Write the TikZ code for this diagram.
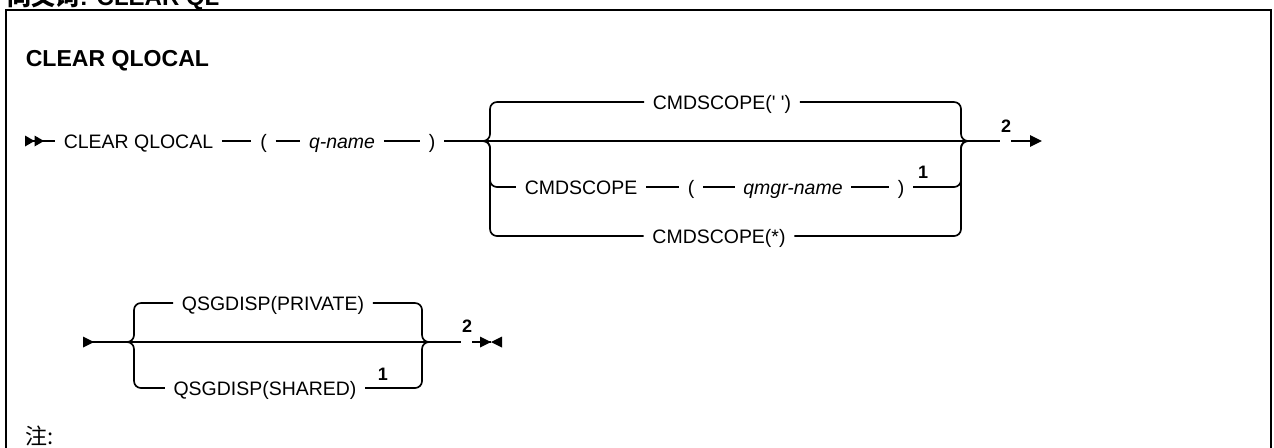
\documentclass[tikz,border=0pt]{standalone}
\usepackage{fontspec}
\setmainfont{Liberation Sans}[Ligatures=TeXOff]
\newfontfamily\cjk{Noto Sans CJK SC}
\usetikzlibrary{arrows.meta}
\begin{document}
\begin{tikzpicture}[x=0.75pt,y=-0.75pt, line width=1.25pt,
  t/.style={font=\fontsize{14.6pt}{16pt}\selectfont, inner ysep=0pt, inner xsep=6pt, text height=10.5pt, text depth=0pt},
  it/.style={t, font=\fontsize{14.6pt}{16pt}\selectfont\itshape},
  supn/.style={font=\fontsize{13.5pt}{15pt}\selectfont\bfseries, inner sep=0pt},
  rc/.style={rounded corners=5.25pt}]
\useasboundingbox (0,0) rectangle (1274,447);
\clip (0,0) rectangle (1274,447);
% cut-off heading and frame
\node[anchor=base west, inner sep=0, font=\fontsize{18pt}{20pt}\selectfont] (syn) at (7,5) {{\cjk\bfseries 同义词}\bfseries: CLEAR QL};
\draw[line width=1.7pt] (6,470) -- (6,10) -- (1271,10) -- (1271,470);
\node[anchor=base west, inner sep=0, font=\fontsize{17.3pt}{19pt}\selectfont\bfseries] (title) at (25,66) {CLEAR QLOCAL};
% ---------- row 1
\coordinate (s1) at (25,141);
\fill (s1) ++(0,-5.5) -- ++(9.5,5.5) -- ++(-9.5,5.5) -- cycle;
\fill (s1) ++(9.5,-5.5) -- ++(9.5,5.5) -- ++(-9.5,5.5) -- cycle;
\node[t, anchor=west] (clr) at (55,141) {CLEAR QLOCAL};
\node[t] (lp1) at (263.5,141) {(};
\node[it] (qn) at (342,141) {q-name};
\node[t] (rp1) at (432,141) {)};
\coordinate (J1) at (483,141); \coordinate (L1) at (490,141);
\coordinate (R1) at (961,141); \coordinate (J2) at (968,141);
\node[t] (cs1) at (722,102) {CMDSCOPE(' ')};
\node[t] (cmd) at (581,187) {CMDSCOPE};
\node[t] (lp2) at (691,187) {(};
\node[it] (qm) at (793,187) {qmgr-name};
\node[t] (rp2) at (901,187) {)};
\node[supn] (n1a) at (923,172) {1};
\node[t] (cs3) at (719,236) {CMDSCOPE(*)};
\coordinate (e1) at (1000,141); \coordinate (e2) at (1011,141); \coordinate (a1) at (1042,141);
\node[supn] (n2a) at (1006,126) {2};
\draw (s1) -- (clr);
\draw (clr) -- (lp1);
\draw (lp1) -- (qn);
\draw (qn) -- (rp1);
\draw (rp1) -- (J1) -- (J2) -- (e1);
\draw[rc] (J1) -- (L1) |- (cs1);
\draw[rc] (cs1) -| (R1) -- (J2);
\draw[rc] (J1) -- (L1) |- (cmd);
\draw (cmd) -- (lp2);
\draw (lp2) -- (qm);
\draw (qm) -- (rp2);
\draw[rc] (rp2) -| (R1) -- (J2);
\draw[rc] (J1) -- (L1) |- (cs3);
\draw[rc] (cs3) -| (R1) -- (J2);
\draw[-{Triangle[length=9pt,width=8.5pt]}] (e2) -- (a1);
% ---------- row 2
\coordinate (s2) at (83,342);
\fill (s2) ++(0,-5.5) -- ++(11,5.5) -- ++(-11,5.5) -- cycle;
\coordinate (J3) at (127,342); \coordinate (L3) at (134,342);
\coordinate (R3) at (422,342); \coordinate (J4) at (429,342);
\node[t] (prv) at (273,303) {QSGDISP(PRIVATE)};
\node[t] (shr) at (265,388) {QSGDISP(SHARED)};
\node[supn] (n1b) at (383,374) {1};
\coordinate (e3) at (461,342); \coordinate (e4) at (472,342); \coordinate (m) at (491,342);
\node[supn] (n2b) at (467,326) {2};
\draw (s2) -- (J3) -- (J4) -- (e3);
\draw[rc] (J3) -- (L3) |- (prv);
\draw[rc] (prv) -| (R3) -- (J4);
\draw[rc] (J3) -- (L3) |- (shr);
\draw[rc] (shr) -| (R3) -- (J4);
\draw (e4) -- (m);
\fill (m) -- ++(-11,-5.5) -- ++(0,11) -- cycle;
\fill (m) -- ++(11,-5.5) -- ++(0,11) -- cycle;
% note
\node[anchor=base west, inner sep=0, font=\cjk\fontsize{16.5pt}{18pt}\selectfont] (note) at (25,444) {注:};
\end{tikzpicture}
\end{document}
